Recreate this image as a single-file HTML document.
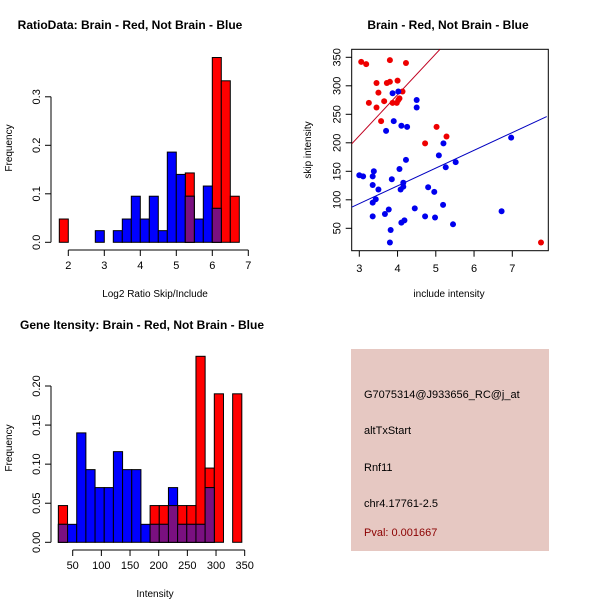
<!DOCTYPE html>
<html><head><meta charset="utf-8"><style>
body{margin:0;background:#fff}
svg{display:block;font-family:"Liberation Sans",sans-serif}
</style></head><body>
<svg id="c" width="600" height="600" viewBox="0 0 600 600">
<rect width="600" height="600" fill="#fff"/>
<text x="130" y="29" font-size="12" font-weight="bold" text-anchor="middle">RatioData: Brain - Red, Not Brain - Blue</text>
<text x="155" y="297" font-size="10" text-anchor="middle">Log2 Ratio Skip/Include</text>
<text transform="translate(12,148) rotate(-90)" font-size="10" text-anchor="middle">Frequency</text>
<text x="448" y="29" font-size="12" font-weight="bold" text-anchor="middle">Brain - Red, Not Brain - Blue</text>
<text x="449" y="297" font-size="10" text-anchor="middle">include intensity</text>
<text transform="translate(311,150) rotate(-90)" font-size="10" text-anchor="middle">skip intensity</text>
<text x="142" y="329" font-size="12" font-weight="bold" text-anchor="middle">Gene Itensity: Brain - Red, Not Brain - Blue</text>
<text x="155" y="597" font-size="10" text-anchor="middle">Intensity</text>
<text transform="translate(12,448) rotate(-90)" font-size="10" text-anchor="middle">Frequency</text>
<g>
<rect x="351" y="349" width="198" height="202" fill="#e6c8c2"/>
<text x="364" y="398" font-size="11">G7075314@J933656_RC@j_at</text>
<text x="364" y="434" font-size="11">altTxStart</text>
<text x="364" y="471" font-size="11">Rnf11</text>
<text x="364" y="507" font-size="11">chr4.17761-2.5</text>
<text x="364" y="536" font-size="11" fill="#8b0000">Pval: 0.001667</text>
</g>
<g id="g1"></g><g id="g2"></g><g id="g3"></g>
</svg>
<script>
// Ratio histogram (bins start 1.75, width 0.25)
const ratioBinStart = 1.75, ratioBinWidth = 0.25;
const ratioRed  = [0.048,0,0,0,0,0,0,0,0,0,0,0,0,0,0.143,0,0,0.381,0.333,0.095];
const ratioBlue = [0,0,0,0,0.024,0,0.024,0.048,0.095,0.048,0.095,0.024,0.186,0.14,0.095,0.048,0.116,0.07,0,0];
const ratioXTicks = [2,3,4,5,6,7];
const ratioYTicks = ["0.0","0.1","0.2","0.3"];
// Intensity histogram (bins start 25, width 16)
const intBinStart = 25, intBinWidth = 16;
const intRed  = [0.047,0,0,0,0,0,0,0,0,0,0.047,0.047,0.047,0.047,0.047,0.238,0.095,0.19,0,0.19];
const intBlue = [0.023,0.023,0.14,0.093,0.07,0.07,0.116,0.093,0.093,0.023,0.023,0.023,0.07,0.023,0.023,0.023,0.07,0,0,0];
const intXTicks = [50,100,150,200,250,300,350];
const intYTicks = ["0.00","0.05","0.10","0.15","0.20"];
// Scatter
const redX = [3.05,3.18,3.8,4.22,3.45,3.72,3.8,4.0,3.5,4.13,3.25,3.65,3.45,3.87,3.98,4.05,3.57,5.02,5.28,4.72,7.75,4.02];
const redY = [342,338,345,340,305,305,307,309,288,290,270,273,262,270,270,278,238,228,211,199,25,275];
const blueX = [3.0,3.1,3.35,3.38,3.35,3.5,3.35,3.43,3.35,3.67,3.77,3.82,3.8,3.85,4.05,4.08,4.15,4.15,4.22,4.1,4.18,4.45,4.72,4.8,4.96,4.98,5.19,5.2,5.08,5.26,5.52,5.45,6.72,6.97,3.7,3.9,4.1,4.25,4.5,4.5,3.87,4.02];
const blueY = [143,141,141,150,126,118,95,101,71,75,83,47,25,136,154,118,123,130,170,60,64,85,71,122,114,69,91,199,178,157,166,57,80,209,221,238,230,228,275,262,287,290];
const redLine = [[2.8,198],[5.11,364]];
const blueLine = [[2.8,87],[7.9,246]];
const scatterXTicks = [3,4,5,6,7];
const scatterYTicks = [50,100,150,200,250,300,350];

const NS="http://www.w3.org/2000/svg";
function mk(p,t,a){const e=document.createElementNS(NS,t);for(const k in a)e.setAttribute(k,a[k]);p.appendChild(e);return e;}

function hist(g,start,w,red,blue,xs,ys,xticks,yticks,yStep,axY,axX,yLabelShift){
  for(let i=0;i<red.length;i++){const x0=xs(start+i*w),x1=xs(start+(i+1)*w);
    const r=mk(g,'rect',{x:x0,y:ys(red[i]),width:x1-x0,height:ys(0)-ys(red[i]),fill:'#ff0000',stroke:'#000','stroke-width':1});
    
    }
  for(let i=0;i<blue.length;i++){if(!blue[i])continue;const x0=xs(start+i*w),x1=xs(start+(i+1)*w);
    const b=mk(g,'rect',{x:x0,y:ys(blue[i]),width:x1-x0,height:ys(0)-ys(blue[i]),fill:'#0000ff',stroke:'#000','stroke-width':1});
    
    }
  for(let i=0;i<blue.length;i++){const m=Math.min(red[i],blue[i]);if(!m)continue;const x0=xs(start+i*w),x1=xs(start+(i+1)*w);
    const p=mk(g,'rect',{x:x0,y:ys(m),width:x1-x0,height:ys(0)-ys(m),fill:'#7a1080',stroke:'#000','stroke-width':1});
    
    }
  // x axis
  mk(g,'line',{x1:xs(xticks[0]),x2:xs(xticks[xticks.length-1]),y1:axY,y2:axY,stroke:'#000'});
  xticks.forEach(v=>{mk(g,'line',{x1:xs(v),x2:xs(v),y1:axY,y2:axY+6,stroke:'#000'});
    const t=mk(g,'text',{x:xs(v),y:axY+19,'font-size':11,'text-anchor':'middle'});t.textContent=v;
    
    });
  // y axis
  const yv=yticks.map((s,i)=>i*yStep);
  mk(g,'line',{x1:axX,x2:axX,y1:ys(0),y2:ys(yv[yv.length-1]),stroke:'#000'});
  yticks.forEach((s,i)=>{const y=ys(yv[i]);mk(g,'line',{x1:axX,x2:axX-6,y1:y,y2:y,stroke:'#000'});
    const t=mk(g,'text',{transform:`translate(${axX-yLabelShift},${y}) rotate(-90)`,'font-size':11,'text-anchor':'middle'});t.textContent=s;
    
    });
}
const g1=document.getElementById('g1');
hist(g1,ratioBinStart,ratioBinWidth,ratioRed,ratioBlue,v=>68.3+(v-2)*36,v=>242.3-v*485,ratioXTicks,ratioYTicks,0.1,250,51,11);
const g3=document.getElementById('g3');
hist(g3,intBinStart,intBinWidth,intRed,intBlue,v=>72.7+(v-50)*0.5733,v=>542.3-v*781.5,intXTicks,intYTicks,0.05,550,51,11);

// scatter
const g2=document.getElementById('g2');
const sx=v=>359.3+(v-3)*38.25, sy=v=>228.3-(v-50)*0.57;
mk(g2,'rect',{x:351.7,y:49.3,width:196.6,height:201.4,fill:'none',stroke:'#000'});
const cp=mk(g2,'clipPath',{id:'cl'});mk(cp,'rect',{x:351.7,y:49.3,width:196.6,height:201.4});
const l1=mk(g2,'line',{x1:sx(redLine[0][0]),y1:sy(redLine[0][1]),x2:sx(redLine[1][0]),y2:sy(redLine[1][1]),stroke:'#c00020','clip-path':'url(#cl)'});


const l2=mk(g2,'line',{x1:sx(blueLine[0][0]),y1:sy(blueLine[0][1]),x2:sx(blueLine[1][0]),y2:sy(blueLine[1][1]),stroke:'#0000c0','clip-path':'url(#cl)'});


redX.forEach((x,i)=>{const c=mk(g2,'circle',{cx:sx(x),cy:sy(redY[i]),r:3,fill:'#ee0000'});
  
  });
blueX.forEach((x,i)=>{const c=mk(g2,'circle',{cx:sx(x),cy:sy(blueY[i]),r:3,fill:'#0000ee'});
  
  });
scatterXTicks.forEach(v=>{mk(g2,'line',{x1:sx(v),x2:sx(v),y1:250.7,y2:256.7,stroke:'#000'});
  const t=mk(g2,'text',{x:sx(v),y:272,'font-size':11,'text-anchor':'middle'});t.textContent=v;
  
  });
scatterYTicks.forEach(v=>{mk(g2,'line',{x1:351.7,x2:345.7,y1:sy(v),y2:sy(v),stroke:'#000'});
  const t=mk(g2,'text',{transform:`translate(340.7,${sy(v)}) rotate(-90)`,'font-size':11,'text-anchor':'middle'});t.textContent=v;
  
  });
</script>
</body></html>
